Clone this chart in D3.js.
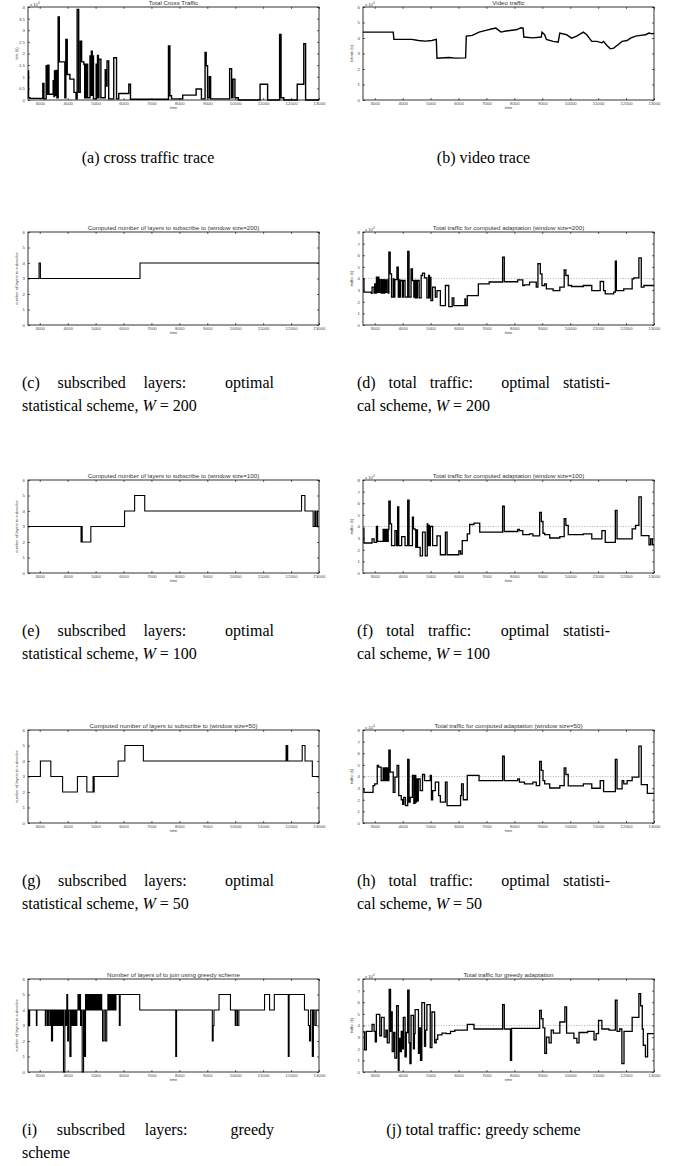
<!DOCTYPE html>
<html>
<head>
<meta charset="utf-8">
<script src="https://cdn.jsdelivr.net/npm/d3@7"></script>
<style>
  body { margin: 0; background: #fff; }
  svg { display: block; }
</style>
</head>
<body>
<div id="chart"></div>
<script>
// x axis (time) shared by all panels
const timeDomain = [2580, 13000];
const timeTicks = [3000, 4000, 5000, 6000, 7000, 8000, 9000, 10000, 11000, 12000, 13000];

// (a) cross traffic, x 10^4 bits
const crossTime = [2578,2600,2650,3110,3150,3230,3260,3290,3330,3480,3510,3530,3560,3580,3615,3660,3700,3900,3935,3985,4080,4225,4300,4340,4395,4450,4500,4580,4610,4630,4660,4680,4715,4800,4830,4850,4880,4900,4925,5020,5050,5070,5100,5120,5190,5345,5380,5410,5470,5650,5750,5830,6190,6250,7610,7660,7720,8120,8600,8790,8920,8960,9010,9070,9120,9800,9870,9920,9990,10110,10890,11160,11590,11640,11740,12220,12455,12520,13000];
const crossRate = [1.25,0.10,0.07,0.71,0.05,1.47,0.25,1.50,0.25,0.83,0.15,1.25,0.20,1.27,0.10,3.57,1.64,0.10,2.60,1.10,0.90,0.33,0.05,3.90,0.33,2.53,1.64,1.54,0.10,1.54,0.10,1.54,0.10,1.90,0.20,2.10,0.20,1.90,0.05,1.54,0.10,1.92,0.10,1.75,0.10,1.30,0.60,1.68,0.05,1.82,0.05,0.28,0.68,0.03,2.32,0.18,0.05,0.21,0.47,0.05,2.04,1.47,0.10,1.00,0.05,1.35,0.10,0.90,0.10,0.00,0.68,0.00,2.82,0.10,0.00,0.68,2.42,0.00,0.00];

// (b) video trace, x 10^4 bits
const videoTime = [2578,3663,3687,4326,4566,4808,5048,5205,5229,5651,5892,6254,6278,6495,6736,6977,7218,7338,7519,7700,8061,8242,8314,8338,8664,8965,8989,9085,9146,9387,9567,9628,9869,10049,10230,10471,10592,10772,10953,11134,11194,11315,11435,11556,11676,11857,12038,12158,12339,12520,12700,12821,12941,13000];
const videoRate = [4.38,4.38,3.91,3.91,3.84,3.80,3.84,3.91,2.70,2.74,2.70,2.72,4.12,4.17,4.38,4.49,4.60,4.64,4.38,4.45,4.53,4.66,4.64,4.06,4.01,4.06,4.38,4.21,3.91,3.78,3.73,4.32,4.21,3.99,4.12,4.38,4.21,3.78,3.78,3.69,3.78,3.52,3.30,3.35,3.52,3.78,3.84,3.99,4.12,4.17,4.21,4.32,4.27,4.32];

// (c) layers, window 200
const layers200Time = [2578,2976,3024,6591,13000];
const layers200 = [3,4,3,4,4];

// (d) total traffic, window 200, x 10^4 bits
const total200Time = [2578,2614,2880,2904,2976,3000,3030,3060,3100,3120,3150,3181,3230,3250,3280,3301,3330,3361,3400,3430,3482,3506,3554,3602,3663,3690,3720,3795,3843,3870,3904,3930,4000,4024,4085,4181,4229,4301,4350,4400,4420,4446,4470,4500,4530,4591,4663,4711,4783,4868,4928,4960,4990,5012,5073,5169,5229,5350,5531,5651,5772,5832,6229,6254,6314,6711,7097,7579,7639,8121,8302,8362,8543,8784,8844,8929,8989,9085,9146,9387,9628,9784,9844,9929,10049,10471,10772,11074,11194,11254,11556,11616,11652,11917,12218,12279,12459,12544,12640,13000];
const total200 = [3.97,2.82,2.73,3.25,2.75,3.54,2.75,4.12,2.80,4.12,2.80,3.90,2.75,3.88,2.75,3.90,2.75,3.88,2.80,3.88,2.75,6.27,4.40,2.39,3.97,2.40,3.90,4.98,2.39,3.88,2.39,3.83,2.40,3.83,2.39,6.33,2.39,4.83,3.83,2.40,3.83,2.33,3.83,2.33,3.83,2.33,4.26,4.46,4.06,2.33,4.26,2.33,4.10,2.10,3.25,2.39,2.96,1.67,3.40,1.58,2.33,1.67,2.24,1.67,2.53,3.54,3.70,5.84,3.72,3.88,3.40,3.45,3.68,3.25,5.27,4.40,3.40,3.54,3.11,2.96,3.25,4.75,4.26,3.40,3.31,3.40,2.96,3.74,2.96,2.68,2.82,5.50,2.96,3.11,3.97,4.06,5.78,3.25,3.40,3.40];

// (e) layers, window 100
const layers100Time = [2578,4480,4500,4520,4830,6037,6398,6760,12375,12496,12790,12850,12880,12930,12950,13000];
const layers100 = [3,2,3,2,3,4,5,4,5,4,3,4,3,4,3,3];

// (f) total traffic, window 100, x 10^4 bits
const total100Time = [2578,2614,2904,2976,3060,3100,3301,3330,3361,3390,3422,3450,3482,3506,3554,3602,3723,3783,3820,3860,3964,4085,4181,4229,4350,4386,4446,4470,4500,4530,4627,4711,4808,4880,4900,4930,4960,4990,5073,5229,5350,5531,5591,6012,6073,6133,6314,6398,6555,6760,7579,7639,8121,8182,8302,8543,8664,8905,8965,9025,9085,9266,9628,9784,9844,9929,10471,10772,11134,11254,11616,11676,12218,12339,12459,12544,12821,12881,12941,13000];
const total100 = [3.80,2.58,2.93,2.64,4.00,2.72,3.74,2.72,3.74,2.72,3.74,2.72,3.74,6.17,4.23,2.35,3.65,2.35,5.68,2.35,3.13,2.35,6.26,2.35,4.81,3.80,3.71,2.20,3.71,2.20,1.48,3.51,1.48,4.23,2.35,4.09,2.35,4.00,2.35,3.20,1.57,3.51,1.57,1.91,1.62,2.78,3.36,4.17,4.29,3.51,5.74,3.57,3.74,3.65,3.30,3.36,3.20,5.22,4.43,3.42,3.30,3.01,3.13,4.67,4.09,3.30,3.36,2.93,3.65,2.64,5.39,2.93,3.80,4.09,6.55,3.22,2.43,2.93,2.43,2.43];

// (g) layers, window 50
const layers50Time = [2578,3024,3397,3819,4350,4687,4910,4930,4950,5808,6049,6711,11821,11840,11860,11880,12158,12399,12500,12520,12761,13000];
const layers50 = [3,4,3,2,3,2,3,2,3,4,5,4,5,4,5,4,4,5,4,4,3,3];

// (h) total traffic, window 50, x 10^4 bits
const total50Time = [2578,2614,2940,3000,3090,3140,3230,3301,3330,3370,3400,3440,3482,3506,3554,3663,3723,3800,3860,3950,4000,4040,4100,4181,4229,4270,4350,4400,4446,4470,4500,4530,4560,4627,4711,4783,4988,5030,5073,5169,5290,5350,5531,5591,6073,6110,6170,6314,6736,7579,7639,8121,8182,8362,8664,8784,8905,8965,9025,9085,9266,9628,9784,9844,9929,10471,10772,11074,11194,11616,11676,11857,11917,12038,12218,12459,12544,12761,13000];
const total50 = [2.93,2.64,3.22,3.36,4.96,4.81,3.65,4.75,3.65,4.75,3.65,4.75,3.65,6.26,4.38,2.64,3.94,4.96,2.35,2.00,1.60,2.20,1.50,5.48,1.80,2.20,4.09,1.70,4.09,1.80,3.80,1.90,3.80,2.78,4.17,3.65,4.09,2.00,2.78,3.51,2.35,1.80,3.51,1.50,2.35,3.36,2.00,4.09,3.65,5.74,3.65,3.80,3.51,3.36,3.51,3.22,5.30,4.52,3.65,3.36,3.01,3.22,4.75,4.17,3.19,3.36,2.99,3.65,2.70,5.48,2.93,3.65,3.36,3.65,3.94,6.61,3.30,2.55,2.55];

// (i) layers, greedy
const greedyLayersTime = [2578,2600,2640,2880,2900,3200,3230,3280,3310,3360,3380,3420,3460,3500,3530,3570,3600,3640,3670,3710,3740,3780,3810,3850,3900,3940,3970,4000,4030,4080,4120,4160,4190,4230,4260,4300,4330,4370,4400,4430,4460,4490,4520,4570,4610,4640,4670,4700,4730,4760,4790,4820,4850,4880,4910,4940,4970,5000,5030,5060,5090,5120,5150,5180,5220,5250,5300,5350,5400,5440,5480,5510,5550,5590,5630,5660,5700,5730,5850,5880,6580,7870,7900,9180,9210,9240,9420,9830,10000,10030,10080,10130,11050,11230,11400,11900,11930,12480,12620,12660,12700,12760,12800,12850,12900,13000];
const greedyLayers = [4,3,4,3,4,3,4,3,4,3,4,2,4,3,4,3,4,3,4,3,4,3,4,0,4,3,5,2,4,1,4,3,4,3,4,3,4,5,4,5,3,4,0,4,1,5,4,5,4,5,4,5,4,5,4,5,4,5,4,5,4,5,4,5,4,2,4,2,4,5,4,5,4,5,4,5,4,5,3,5,4,1,4,2,3,4,5,4,3,4,3,4,5,4,5,1,5,4,3,2,4,1,4,3,4,4];

// (j) total traffic, greedy, x 10^4 bits
const greedyTotalTime = [2578,2640,2700,2904,2976,3020,3060,3181,3241,3337,3400,3450,3518,3566,3578,3626,3680,3720,3783,3843,3870,3905,3951,3990,4024,4085,4130,4181,4229,4260,4301,4386,4420,4446,4566,4600,4640,4687,4783,4820,4868,4988,5048,5145,5200,5255,5408,5561,5715,5868,6314,6555,7579,7639,7860,7900,8905,8965,9025,9089,9150,9242,9319,9396,9628,9808,9870,10132,10239,10316,10623,10853,10929,11014,11134,11390,11616,11676,11773,11850,11926,12218,12459,12520,12580,12616,12693,12770,13000];
const greedyTotal = [3.45,1.90,3.50,4.10,3.50,2.60,4.96,3.10,4.70,3.00,3.60,2.50,7.10,3.50,5.16,1.75,3.40,1.20,5.70,0.15,2.90,1.75,3.50,2.00,4.70,1.30,3.40,7.04,2.50,0.73,4.87,2.00,3.30,5.36,1.60,3.80,1.00,5.97,2.20,3.60,5.80,2.10,5.16,2.50,2.80,3.20,3.35,3.30,3.50,3.60,4.10,3.70,5.80,3.70,1.00,3.75,5.30,4.58,3.80,1.60,3.00,2.50,3.60,3.35,4.30,5.60,3.35,2.90,2.50,3.40,3.50,2.77,3.30,4.43,3.70,3.60,6.17,3.50,3.70,0.73,3.50,4.70,6.75,5.70,3.70,2.30,1.30,3.30,3.30];

// axis tick values
const crossTicks = [0, 0.5, 1, 1.5, 2, 2.5, 3, 3.5, 4];
const videoTicks = [0, 1, 2, 3, 4, 5, 6];
const layerTicks = [0, 1, 2, 3, 4, 5, 6];
const totalTicks = [0, 1, 2, 3, 4, 5, 6, 7, 8];
const capacityLine = 4;

// captions
const captions = {
  a: ["(a) cross traffic trace"],
  b: ["(b) video trace"],
  c: ["(c) subscribed layers: optimal", "statistical scheme, |W| = 200"],
  d: ["(d) total traffic: optimal statisti-", "cal scheme, |W| = 200"],
  e: ["(e) subscribed layers: optimal", "statistical scheme, |W| = 100"],
  f: ["(f) total traffic: optimal statisti-", "cal scheme, |W| = 100"],
  g: ["(g) subscribed layers: optimal", "statistical scheme, |W| = 50"],
  h: ["(h) total traffic: optimal statisti-", "cal scheme, |W| = 50"],
  i: ["(i) subscribed layers: greedy", "scheme"],
  j: ["(j) total traffic: greedy scheme"]
};

const panels = [
  { key: "a", col: 0, row: 0, title: "Total Cross Traffic", ylabel: "bits (b)", t: crossTime, v: crossRate, ticks: crossTicks, mult: true, step: true, lw: 1.4 },
  { key: "b", col: 1, row: 0, title: "Video traffic", ylabel: "bitrate (b)", t: videoTime, v: videoRate, ticks: videoTicks, mult: true, step: false, lw: 1.4 },
  { key: "c", col: 0, row: 1, title: "Computed number of layers to subscribe to (window size=200)", ylabel: "number of layers to subscribe", t: layers200Time, v: layers200, ticks: layerTicks, step: true, lw: 1.1 },
  { key: "d", col: 1, row: 1, title: "Total traffic for computed adaptation (window size=200)", ylabel: "traffic (b)", t: total200Time, v: total200, ticks: totalTicks, mult: true, dotted: true, step: true, lw: 1.3 },
  { key: "e", col: 0, row: 2, title: "Computed number of layers to subscribe to (window size=100)", ylabel: "number of layers to subscribe", t: layers100Time, v: layers100, ticks: layerTicks, step: true, lw: 1.1 },
  { key: "f", col: 1, row: 2, title: "Total traffic for computed adaptation (window size=100)", ylabel: "traffic (b)", t: total100Time, v: total100, ticks: totalTicks, mult: true, dotted: true, step: true, lw: 1.3 },
  { key: "g", col: 0, row: 3, title: "Computed number of layers to subscribe to (window size=50)", ylabel: "number of layers to subscribe", t: layers50Time, v: layers50, ticks: layerTicks, step: true, lw: 1.1 },
  { key: "h", col: 1, row: 3, title: "Total traffic for computed adaptation (window size=50)", ylabel: "traffic (b)", t: total50Time, v: total50, ticks: totalTicks, mult: true, dotted: true, step: true, lw: 1.3 },
  { key: "i", col: 0, row: 4, title: "Number of layers of to join using greedy scheme", ylabel: "number of layers to subscribe", t: greedyLayersTime, v: greedyLayers, ticks: layerTicks, step: true, lw: 1.1 },
  { key: "j", col: 1, row: 4, title: "Total traffic for greedy adaptation", ylabel: "traffic (b)", t: greedyTotalTime, v: greedyTotal, ticks: totalTicks, mult: true, dotted: true, step: true, lw: 1.3 }
];

// layout
const width = 673, height = 1166;
const colX = [28, 363], plotW = 291, plotH = 93;
const rowY = [7, 232, 480, 730, 979];
const capCol = [[22, 274], [357, 610]];
const capLine1 = 156, capGap = 22.5;

const svg = d3.select("#chart").append("svg")
  .attr("width", width)
  .attr("height", height)
  .attr("viewBox", [0, 0, width, height])
  .style("font-family", "'Liberation Sans', Arial, sans-serif");

const tiny = g => g.attr("font-size", 4.3).attr("font-family", "'Liberation Sans', Arial, sans-serif").attr("fill", "#333")
  .call(g => g.select(".domain").remove())
  .call(g => g.selectAll(".tick line").attr("stroke", "#000").attr("stroke-width", 0.6))
  .call(g => g.selectAll(".tick text").attr("fill", "#444"));

function drawPanel(p) {
  const left = colX[p.col], top = rowY[p.row];
  const yMax = p.ticks[p.ticks.length - 1];
  const x = d3.scaleLinear(timeDomain, [left, left + plotW]);
  const y = d3.scaleLinear([0, yMax], [top + plotH, top]);
  const g = svg.append("g");

  g.append("g").attr("transform", `translate(0,${top + plotH})`)
    .call(d3.axisBottom(x).tickValues(timeTicks).tickSize(-2).tickPadding(1.8).tickFormat(d3.format("d")))
    .call(tiny);
  g.append("g").attr("transform", `translate(0,${top})`)
    .call(d3.axisTop(x).tickValues(timeTicks).tickSize(-2).tickFormat(""))
    .call(tiny);
  g.append("g").attr("transform", `translate(${left},0)`)
    .call(d3.axisLeft(y).tickValues(p.ticks).tickSize(-2).tickPadding(3).tickFormat(d3.format("~g")))
    .call(tiny);
  g.append("g").attr("transform", `translate(${left + plotW},0)`)
    .call(d3.axisRight(y).tickValues(p.ticks).tickSize(-2).tickFormat(""))
    .call(tiny);

  if (p.dotted) {
    g.append("line")
      .attr("x1", left).attr("x2", left + plotW)
      .attr("y1", y(capacityLine)).attr("y2", y(capacityLine))
      .attr("stroke", "#777").attr("stroke-width", 0.6)
      .attr("stroke-dasharray", "1,1.6");
  }

  const data = d3.zip(p.t, p.v);
  const line = d3.line()
    .x(d => x(d[0]))
    .y(d => y(d[1]))
    .curve(p.step ? d3.curveStepAfter : d3.curveLinear);
  g.append("path")
    .datum(data)
    .attr("fill", "none")
    .attr("stroke", "#000")
    .attr("stroke-width", p.lw)
    .attr("stroke-linejoin", "miter")
    .attr("d", line);

  g.append("rect")
    .attr("x", left).attr("y", top)
    .attr("width", plotW).attr("height", plotH)
    .attr("fill", "none").attr("stroke", "#000").attr("stroke-width", 0.8);

  g.append("text")
    .attr("x", left + plotW / 2).attr("y", top - 2)
    .attr("text-anchor", "middle").attr("font-size", 6.2).attr("fill", "#333")
    .text(p.title);

  g.append("text")
    .attr("x", left + plotW / 2).attr("y", top + plotH + 8.5)
    .attr("text-anchor", "middle").attr("font-size", 4).attr("fill", "#444")
    .text("time");

  g.append("text")
    .attr("transform", `translate(${left - 10},${top + plotH / 2}) rotate(-90)`)
    .attr("text-anchor", "middle").attr("font-size", 4).attr("fill", "#444")
    .text(p.ylabel);

  if (p.mult) {
    const m = g.append("text")
      .attr("x", left + 2).attr("y", top - 1.5)
      .attr("font-size", 4.2).attr("fill", "#444");
    m.append("tspan").text("x 10");
    m.append("tspan").attr("dy", -1.6).attr("font-size", 3).text("4");
  }

  drawCaption(captions[p.key], p);
}

function addRich(text, str) {
  // |W| marks the italic math symbol
  str.split("|").forEach((part, i) => {
    if (!part) return;
    text.append("tspan").attr("font-style", i % 2 ? "italic" : "normal").text(part);
  });
}

function drawCaption(lines, p) {
  const [c0, c1] = capCol[p.col];
  const base = rowY[p.row] + capLine1;
  const g = svg.append("g")
    .attr("font-family", "'Liberation Serif', 'Times New Roman', serif")
    .attr("font-size", 16)
    .attr("fill", "#000");
  if (lines.length === 1) {
    const t = g.append("text").attr("x", (c0 + c1) / 2).attr("y", base).attr("text-anchor", "middle");
    addRich(t, lines[0]);
    return;
  }
  // first line justified over the column width; space after a colon stretches more
  const words = lines[0].split(" ");
  const nodes = words.map(w => g.append("text").attr("y", base).text(w));
  const widths = nodes.map(n => n.node().getComputedTextLength());
  const weights = words.slice(0, -1).map(w => w.endsWith(":") ? 2.2 : 1);
  const extra = c1 - c0 - d3.sum(widths);
  const wsum = d3.sum(weights);
  let cx = c0;
  nodes.forEach((n, i) => {
    n.attr("x", cx);
    cx += widths[i] + (i < weights.length ? extra * weights[i] / wsum : 0);
  });
  const t2 = g.append("text").attr("x", c0).attr("y", base + capGap);
  addRich(t2, lines[1]);
}

panels.forEach(drawPanel);
</script>
</body>
</html>
